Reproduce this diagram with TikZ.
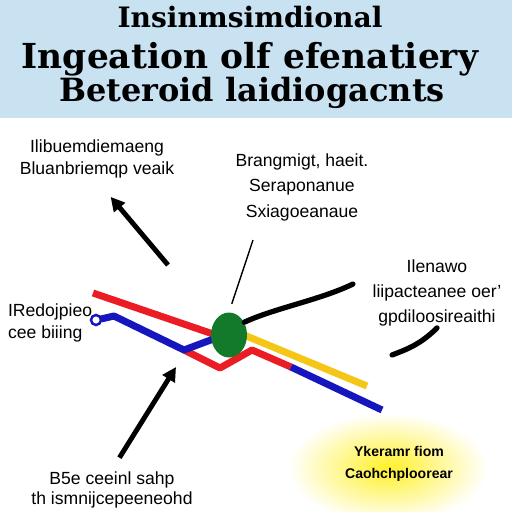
\documentclass[tikz,border=0pt]{standalone}
\usepackage{fontspec}
\setmainfont{Liberation Serif}
\setsansfont{Liberation Sans}
\newfontfamily\titlefont{DejaVu Serif}
\usetikzlibrary{arrows.meta, shapes.geometric}
\definecolor{bannerblue}{RGB}{200,226,242}
\definecolor{lnred}{RGB}{236,28,36}
\definecolor{lnblue}{RGB}{22,22,190}
\definecolor{lnyellow}{RGB}{246,198,22}
\definecolor{blobgreen}{RGB}{18,122,42}
\definecolor{glowyellow}{RGB}{255,240,40}

\begin{document}
\begin{tikzpicture}[x=0.02cm, y=-0.02cm, font=\sffamily, >={Triangle[length=8pt, width=8pt]},
          ttl/.style={anchor=base, inner sep=0pt},
          lbl/.style={align=center, inner sep=1pt, font=\sffamily\fontsize{10}{13}\selectfont},
          route/.style={line width=4pt, line join=round},
          arr/.style={->, line width=2.8pt},
          pen/.style={line width=3pt, line cap=round},
          blob/.style={ellipse, fill=blobgreen, minimum width=0.72cm, minimum height=0.9cm, inner sep=0pt}]
        \useasboundingbox (0,0) rectangle (512,512);
        \fill[white] (0,0) rectangle (512,512);
        \fill[bannerblue] (0,0) rectangle (512,118);
        \shade[inner color=glowyellow, outer color=white] (388,468) ellipse (2.0cm and 1.1cm);
        \node[ttl, font=\titlefont\bfseries\fontsize{16}{18}\selectfont] (t1) at (250,27) {Insinmsimdional};
        \node[ttl, font=\titlefont\bfseries\fontsize{19.6}{20}\selectfont] (t2) at (250,68) {Ingeation olf efenatiery};
        \node[ttl, font=\titlefont\bfseries\fontsize{18.2}{20}\selectfont] (t3) at (252,101) {Beteroid laidiogacnts};
        \draw[route, lnred] (93,293) -- (216,335);
        \draw[route, lnred] (184,350) -- (220,368) -- (252,350) -- (291,367);
        \draw[route, lnblue] (291,367) -- (382,410);
        \draw[route, lnblue] (101,319) -- (114,316) -- (184,350) -- (216,338);
        \draw[route, lnyellow] (244,335) -- (367,386);
        \node[circle, draw=lnblue, line width=1.4pt, minimum size=0.2cm, inner sep=0pt] (stop) at (96,320) {};
        \node[blob] (eye) at (229,335) {};
        \node[lbl] (tl) at (97,159) {Ilibuemdiemaeng\\Bluanbriemqp veaik};
        \node[lbl, font=\sffamily\fontsize{10}{14.5}\selectfont] (tc) at (302,187) {Brangmigt, haeit.\\Seraponanue\\Sxiagoeanaue};
        \node[lbl, font=\sffamily\fontsize{10}{14}\selectfont] (rt) at (437,293) {Ilenawo\\liipacteanee oer'\\gpdiloosireaithi};
        \node[lbl, align=left, anchor=west] (lf) at (6,323) {IRedojpieo\\cee biiing};
        \node[lbl, font=\sffamily\fontsize{10}{11.5}\selectfont] (bt) at (112,490) {B5e ceeinl sahp\\th ismnijcepeeneohd};
        \node[lbl, font=\sffamily\bfseries\fontsize{8}{12.5}\selectfont] (gl) at (399,464) {Ykeramr fiom\\Caohchploorear};
        \coordinate (a1) at (168,265);
        \coordinate (b1) at (176,367);
        \coordinate (tp) at (253,240);
        \coordinate (p1) at (353,284);
        \coordinate (p2) at (392,355);
        \draw[arr, shorten >=12pt] (a1) -- (tl.south);
        \draw[arr, shorten <=8pt] (bt.north) -- (b1);
        \draw[line width=0.8pt, shorten <=5pt] (eye.north) -- (tp);
        \draw[pen] (eye.40) .. controls (275,308) and (320,300) .. (p1);
        \draw[pen] (rt.south) .. controls (420,345) and (405,350) .. (p2);
      \end{tikzpicture}
\end{document}
